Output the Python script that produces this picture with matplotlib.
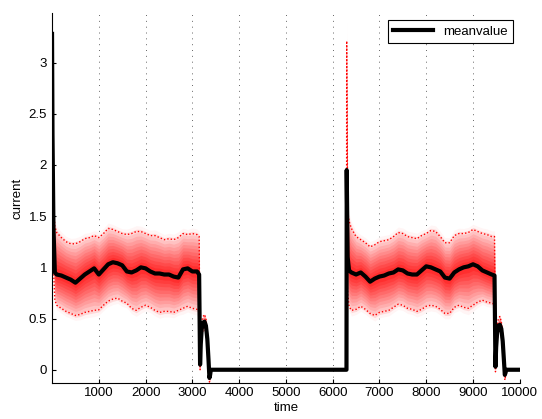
import numpy as np
import matplotlib
matplotlib.use('Agg')
import matplotlib.pyplot as plt

plt.rcParams['font.family'] = ['Liberation Sans', 'DejaVu Sans']
plt.rcParams['font.size'] = 9.5

# 時刻
time = [0, 10, 30, 60,
        100, 200, 300, 400, 500, 600, 700, 800, 900, 1000,
        1100, 1200, 1300, 1400, 1500, 1600, 1700, 1800, 1900, 2000,
        2100, 2200, 2300, 2400, 2500, 2600, 2700, 2800, 2900, 3000,
        3100, 3145,
        3165, 3180, 3200, 3230, 3260, 3290, 3320, 3345, 3365, 3380, 3395, 6295,
        6300, 6320, 6350,
        6400, 6500, 6600, 6700, 6800, 6900, 7000, 7100, 7200, 7300,
        7400, 7500, 7600, 7700, 7800, 7900, 8000, 8100, 8200, 8300,
        8400, 8500, 8600, 8700, 8800, 8900, 9000, 9100, 9200, 9300,
        9400, 9460,
        9480, 9495, 9515, 9545, 9575, 9605, 9635, 9660, 9680, 9695, 9710, 10000]

# 平均値
mean_val = [3.28, 2.30, 1.40, 0.95,
            0.93, 0.92, 0.90, 0.88, 0.85, 0.89, 0.93, 0.96, 0.99, 0.93,
            0.98, 1.03, 1.05, 1.04, 1.02, 0.96, 0.95, 0.97, 1.00, 0.99,
            0.96, 0.94, 0.94, 0.93, 0.93, 0.91, 0.90, 0.98, 0.99, 0.96,
            0.96, 0.93,
            0.05, 0.25, 0.40, 0.46, 0.47, 0.43, 0.30, 0.10, -0.08, -0.05, 0.0, 0.0,
            1.95, 1.10, 0.97,
            0.95, 0.93, 0.95, 0.91, 0.86, 0.89, 0.91, 0.92, 0.94, 0.95,
            0.98, 0.97, 0.94, 0.93, 0.93, 0.97, 1.01, 1.00, 0.98, 0.96,
            0.90, 0.89, 0.95, 0.98, 1.00, 1.01, 1.03, 1.01, 0.97, 0.95,
            0.93, 0.92,
            0.03, 0.22, 0.36, 0.43, 0.44, 0.40, 0.28, 0.10, -0.05, -0.03, 0.0, 0.0]

# 上側(最大)
upper_val = [3.48, 2.50, 1.60, 1.40,
             1.34, 1.29, 1.25, 1.23, 1.23, 1.25, 1.28, 1.29, 1.31, 1.29,
             1.33, 1.38, 1.37, 1.35, 1.33, 1.32, 1.33, 1.35, 1.35, 1.33,
             1.31, 1.31, 1.29, 1.27, 1.28, 1.27, 1.29, 1.33, 1.32, 1.33,
             1.32, 1.30,
             0.10, 0.32, 0.47, 0.52, 0.54, 0.50, 0.37, 0.17, 0.0, 0.0, 0.0, 0.0,
             3.21, 1.55, 1.45,
             1.38, 1.30, 1.27, 1.24, 1.20, 1.22, 1.25, 1.26, 1.27, 1.30,
             1.34, 1.33, 1.30, 1.29, 1.28, 1.31, 1.33, 1.36, 1.35, 1.30,
             1.24, 1.24, 1.31, 1.33, 1.33, 1.34, 1.37, 1.35, 1.33, 1.32,
             1.30, 1.30,
             0.08, 0.30, 0.44, 0.50, 0.52, 0.47, 0.35, 0.17, 0.02, 0.0, 0.0, 0.0]

# 下側(最小)
lower_val = [2.90, 1.80, 1.00, 0.68,
             0.63, 0.60, 0.57, 0.55, 0.53, 0.54, 0.56, 0.57, 0.58, 0.585,
             0.63, 0.67, 0.69, 0.70, 0.67, 0.65, 0.60, 0.58, 0.61, 0.63,
             0.61, 0.58, 0.56, 0.57, 0.57, 0.56, 0.58, 0.60, 0.62, 0.60,
             0.59, 0.58,
             0.0, 0.18, 0.33, 0.40, 0.41, 0.36, 0.23, 0.03, -0.12, -0.08, 0.0, 0.0,
             1.00, 0.75, 0.62,
             0.58, 0.59, 0.62, 0.59, 0.55, 0.53, 0.56, 0.57, 0.58, 0.61,
             0.64, 0.63, 0.60, 0.59, 0.57, 0.59, 0.62, 0.63, 0.62, 0.59,
             0.55, 0.55, 0.61, 0.63, 0.61, 0.60, 0.63, 0.66, 0.68, 0.66,
             0.65, 0.64,
             -0.02, 0.15, 0.29, 0.37, 0.38, 0.33, 0.21, 0.03, -0.10, -0.06, 0.0, 0.0]

t = np.array(time, dtype=float)
m = np.array(mean_val)
up = np.array(upper_val)
lo = np.array(lower_val)

fig, ax = plt.subplots(figsize=(5.42, 4.19), dpi=100)
fig.subplots_adjust(left=0.096, right=0.959, bottom=0.087, top=0.968)

# 分布の帯(外側ほど薄く)
levels = np.linspace(1.15, 0.15, 12)
pale = np.array([1.0, 0.96, 0.96])
deep = np.array([1.0, 0.18, 0.18])
for i, k in enumerate(levels):
    f = (i / (len(levels) - 1)) ** 0.8
    c = pale * (1 - f) + deep * f
    ax.fill_between(t, m - k * (m - lo), m + k * (up - m), color=c, lw=0)

ax.plot(t, up, color='red', linestyle=(0, (1, 1.5)), lw=1)
ax.plot(t, lo, color='red', linestyle=(0, (1, 1.5)), lw=1)
ax.plot(t, m, color='black', lw=3, label='meanvalue')

ax.set_xlim(0, 10000)
ax.set_ylim(-0.125, 3.48)
ax.set_xticks(range(1000, 10001, 1000))
ax.set_yticks([0, 0.5, 1, 1.5, 2, 2.5, 3])
ax.set_yticklabels(['0', '0.5', '1', '1.5', '2', '2.5', '3'])
ax.tick_params(direction='in', length=3, top=False, right=False)
ax.xaxis.grid(True, linestyle=(0, (1, 5)), color='0.4', lw=0.7)
ax.set_axisbelow(True)
ax.spines['top'].set_visible(False)
ax.spines['right'].set_visible(False)
ax.set_xlabel('time', labelpad=2)
ax.set_ylabel('current')

leg = ax.legend(loc='upper right', fancybox=False, edgecolor='black', framealpha=1,
                handlelength=3.0, borderaxespad=0.5)
leg.get_frame().set_linewidth(0.8)

plt.savefig('out.png', dpi=100)
